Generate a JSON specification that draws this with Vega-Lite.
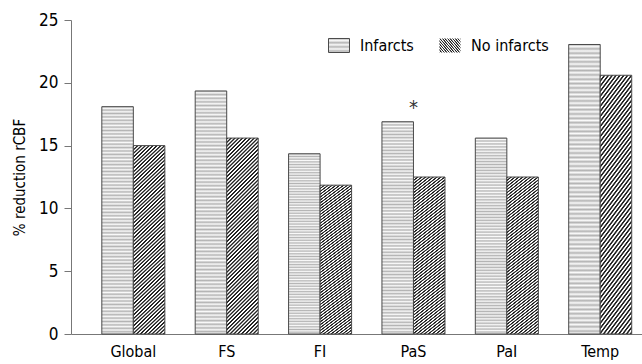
{
"$schema": "https://vega.github.io/schema/vega-lite/v6.json",
"width": 571,
"height": 314,
"autosize": {"type": "none"},
"padding": {"left": 71, "top": 20, "right": 0, "bottom": 30},
"config": {
  "font": "DejaVu Sans Condensed, sans-serif",
  "view": {"stroke": null},
  "axis": {"labelColor": "#000", "titleColor": "#000", "domainColor": "#777", "tickColor": "#777", "grid": false},
  "legend": {"orient": "none", "direction": "horizontal", "symbolType": "M-1,-0.667H1V0.667H-1Z", "symbolSize": 441, "symbolStrokeWidth": 1, "symbolStrokeColor": "#4a4a4a", "labelFontSize": 16, "labelColor": "#000", "labelOffset": 10, "padding": 0, "symbolOffset": 0}
},
"data": {"values": [
  {"category": "Global", "series": "Infarcts", "value": 18.1, "sig": ""},
  {"category": "Global", "series": "No infarcts", "value": 15.0, "sig": ""},
  {"category": "FS", "series": "Infarcts", "value": 19.35, "sig": ""},
  {"category": "FS", "series": "No infarcts", "value": 15.6, "sig": ""},
  {"category": "FI", "series": "Infarcts", "value": 14.35, "sig": ""},
  {"category": "FI", "series": "No infarcts", "value": 11.85, "sig": ""},
  {"category": "PaS", "series": "Infarcts", "value": 16.9, "sig": "*"},
  {"category": "PaS", "series": "No infarcts", "value": 12.5, "sig": ""},
  {"category": "PaI", "series": "Infarcts", "value": 15.6, "sig": ""},
  {"category": "PaI", "series": "No infarcts", "value": 12.5, "sig": ""},
  {"category": "Temp", "series": "Infarcts", "value": 23.05, "sig": ""},
  {"category": "Temp", "series": "No infarcts", "value": 20.6, "sig": ""}
]},
"encoding": {
  "x": {"field": "category", "type": "nominal", "sort": ["Global", "FS", "FI", "PaS", "PaI", "Temp"],
    "scale": {"paddingInner": 0.325, "paddingOuter": 0.22, "align": 0.75},
    "axis": {"title": null, "ticks": false, "labelAngle": 0, "labelFontSize": 16, "labelPadding": 9}},
  "y": {"field": "value", "type": "quantitative", "scale": {"domain": [0, 25], "nice": false},
    "axis": {"values": [0, 5, 10, 15, 20, 25], "title": "% reduction rCBF", "titleFontSize": 15, "titleFontWeight": "normal", "titlePadding": 11, "labelFontSize": 17, "tickSize": 7, "labelPadding": 6}}
},
"layer": [
  {
    "transform": [{"filter": "datum.series === 'Infarcts'"}],
    "mark": {"type": "bar", "strokeWidth": 1, "fill": {"gradient": "linear", "x1": 0, "y1": 0, "x2": 0, "y2": 1.5, "stops": [
{"offset":0,"color":"#b4b4b4"},{"offset":0.005,"color":"#fafafa"},{"offset":0.01,"color":"#b4b4b4"},{"offset":0.015,"color":"#fafafa"},{"offset":0.02,"color":"#b4b4b4"},{"offset":0.025,"color":"#fafafa"},{"offset":0.03,"color":"#b4b4b4"},{"offset":0.035,"color":"#fafafa"},{"offset":0.04,"color":"#b4b4b4"},{"offset":0.045,"color":"#fafafa"},
{"offset":0.05,"color":"#b4b4b4"},{"offset":0.055,"color":"#fafafa"},{"offset":0.06,"color":"#b4b4b4"},{"offset":0.065,"color":"#fafafa"},{"offset":0.07,"color":"#b4b4b4"},{"offset":0.075,"color":"#fafafa"},{"offset":0.08,"color":"#b4b4b4"},{"offset":0.085,"color":"#fafafa"},{"offset":0.09,"color":"#b4b4b4"},{"offset":0.095,"color":"#fafafa"},
{"offset":0.1,"color":"#b4b4b4"},{"offset":0.105,"color":"#fafafa"},{"offset":0.11,"color":"#b4b4b4"},{"offset":0.115,"color":"#fafafa"},{"offset":0.12,"color":"#b4b4b4"},{"offset":0.125,"color":"#fafafa"},{"offset":0.13,"color":"#b4b4b4"},{"offset":0.135,"color":"#fafafa"},{"offset":0.14,"color":"#b4b4b4"},{"offset":0.145,"color":"#fafafa"},
{"offset":0.15,"color":"#b4b4b4"},{"offset":0.155,"color":"#fafafa"},{"offset":0.16,"color":"#b4b4b4"},{"offset":0.165,"color":"#fafafa"},{"offset":0.17,"color":"#b4b4b4"},{"offset":0.175,"color":"#fafafa"},{"offset":0.18,"color":"#b4b4b4"},{"offset":0.185,"color":"#fafafa"},{"offset":0.19,"color":"#b4b4b4"},{"offset":0.195,"color":"#fafafa"},
{"offset":0.2,"color":"#b4b4b4"},{"offset":0.205,"color":"#fafafa"},{"offset":0.21,"color":"#b4b4b4"},{"offset":0.215,"color":"#fafafa"},{"offset":0.22,"color":"#b4b4b4"},{"offset":0.225,"color":"#fafafa"},{"offset":0.23,"color":"#b4b4b4"},{"offset":0.235,"color":"#fafafa"},{"offset":0.24,"color":"#b4b4b4"},{"offset":0.245,"color":"#fafafa"},
{"offset":0.25,"color":"#b4b4b4"},{"offset":0.255,"color":"#fafafa"},{"offset":0.26,"color":"#b4b4b4"},{"offset":0.265,"color":"#fafafa"},{"offset":0.27,"color":"#b4b4b4"},{"offset":0.275,"color":"#fafafa"},{"offset":0.28,"color":"#b4b4b4"},{"offset":0.285,"color":"#fafafa"},{"offset":0.29,"color":"#b4b4b4"},{"offset":0.295,"color":"#fafafa"},
{"offset":0.3,"color":"#b4b4b4"},{"offset":0.305,"color":"#fafafa"},{"offset":0.31,"color":"#b4b4b4"},{"offset":0.315,"color":"#fafafa"},{"offset":0.32,"color":"#b4b4b4"},{"offset":0.325,"color":"#fafafa"},{"offset":0.33,"color":"#b4b4b4"},{"offset":0.335,"color":"#fafafa"},{"offset":0.34,"color":"#b4b4b4"},{"offset":0.345,"color":"#fafafa"},
{"offset":0.35,"color":"#b4b4b4"},{"offset":0.355,"color":"#fafafa"},{"offset":0.36,"color":"#b4b4b4"},{"offset":0.365,"color":"#fafafa"},{"offset":0.37,"color":"#b4b4b4"},{"offset":0.375,"color":"#fafafa"},{"offset":0.38,"color":"#b4b4b4"},{"offset":0.385,"color":"#fafafa"},{"offset":0.39,"color":"#b4b4b4"},{"offset":0.395,"color":"#fafafa"},
{"offset":0.4,"color":"#b4b4b4"},{"offset":0.405,"color":"#fafafa"},{"offset":0.41,"color":"#b4b4b4"},{"offset":0.415,"color":"#fafafa"},{"offset":0.42,"color":"#b4b4b4"},{"offset":0.425,"color":"#fafafa"},{"offset":0.43,"color":"#b4b4b4"},{"offset":0.435,"color":"#fafafa"},{"offset":0.44,"color":"#b4b4b4"},{"offset":0.445,"color":"#fafafa"},
{"offset":0.45,"color":"#b4b4b4"},{"offset":0.455,"color":"#fafafa"},{"offset":0.46,"color":"#b4b4b4"},{"offset":0.465,"color":"#fafafa"},{"offset":0.47,"color":"#b4b4b4"},{"offset":0.475,"color":"#fafafa"},{"offset":0.48,"color":"#b4b4b4"},{"offset":0.485,"color":"#fafafa"},{"offset":0.49,"color":"#b4b4b4"},{"offset":0.495,"color":"#fafafa"},
{"offset":0.5,"color":"#b4b4b4"},{"offset":0.505,"color":"#fafafa"},{"offset":0.51,"color":"#b4b4b4"},{"offset":0.515,"color":"#fafafa"},{"offset":0.52,"color":"#b4b4b4"},{"offset":0.525,"color":"#fafafa"},{"offset":0.53,"color":"#b4b4b4"},{"offset":0.535,"color":"#fafafa"},{"offset":0.54,"color":"#b4b4b4"},{"offset":0.545,"color":"#fafafa"},
{"offset":0.55,"color":"#b4b4b4"},{"offset":0.555,"color":"#fafafa"},{"offset":0.56,"color":"#b4b4b4"},{"offset":0.565,"color":"#fafafa"},{"offset":0.57,"color":"#b4b4b4"},{"offset":0.575,"color":"#fafafa"},{"offset":0.58,"color":"#b4b4b4"},{"offset":0.585,"color":"#fafafa"},{"offset":0.59,"color":"#b4b4b4"},{"offset":0.595,"color":"#fafafa"},
{"offset":0.6,"color":"#b4b4b4"},{"offset":0.605,"color":"#fafafa"},{"offset":0.61,"color":"#b4b4b4"},{"offset":0.615,"color":"#fafafa"},{"offset":0.62,"color":"#b4b4b4"},{"offset":0.625,"color":"#fafafa"},{"offset":0.63,"color":"#b4b4b4"},{"offset":0.635,"color":"#fafafa"},{"offset":0.64,"color":"#b4b4b4"},{"offset":0.645,"color":"#fafafa"},
{"offset":0.65,"color":"#b4b4b4"},{"offset":0.655,"color":"#fafafa"},{"offset":0.66,"color":"#b4b4b4"},{"offset":0.665,"color":"#fafafa"},{"offset":0.67,"color":"#b4b4b4"}
    ]}},
    "encoding": {
      "xOffset": {"field": "series", "type": "nominal", "scale": {"domain": ["Infarcts", "No infarcts"], "paddingInner": 0, "paddingOuter": 0}},
      "stroke": {"field": "series", "type": "nominal", "scale": {"range": ["#4a4a4a"]},
        "legend": {"title": null, "legendX": 257, "legendY": 14.5,
          "encode": {"symbols": {
            "fill": {"value": {"gradient": "linear", "x1": 0, "y1": 0, "x2": 0, "y2": 2.14, "stops": [
{"offset":0,"color":"#b4b4b4"},{"offset":0.05,"color":"#fafafa"},{"offset":0.1,"color":"#b4b4b4"},{"offset":0.15,"color":"#fafafa"},{"offset":0.2,"color":"#b4b4b4"},{"offset":0.25,"color":"#fafafa"},{"offset":0.3,"color":"#b4b4b4"},{"offset":0.35,"color":"#fafafa"},{"offset":0.4,"color":"#b4b4b4"},{"offset":0.45,"color":"#fafafa"},{"offset":0.5,"color":"#b4b4b4"}
            ]}},
            "fillOpacity": {"value": 1},
            "strokeWidth": {"value": 1}
          }}
        }
      }
    }
  },
  {
    "transform": [{"filter": "datum.series === 'No infarcts'"}],
    "mark": {"type": "bar", "strokeWidth": 1, "stroke": "#4a4a4a", "fill": {"gradient": "linear", "x1": 0, "y1": 0, "x2": 0.3042, "y2": 1.901, "stops": [
{"offset":0,"color":"#222"},{"offset":0.003,"color":"#222"},{"offset":0.005,"color":"#fff"},{"offset":0.008,"color":"#fff"},
{"offset":0.01,"color":"#222"},{"offset":0.013,"color":"#222"},{"offset":0.015,"color":"#fff"},{"offset":0.018,"color":"#fff"},
{"offset":0.02,"color":"#222"},{"offset":0.023,"color":"#222"},{"offset":0.025,"color":"#fff"},{"offset":0.028,"color":"#fff"},
{"offset":0.03,"color":"#222"},{"offset":0.033,"color":"#222"},{"offset":0.035,"color":"#fff"},{"offset":0.038,"color":"#fff"},
{"offset":0.04,"color":"#222"},{"offset":0.043,"color":"#222"},{"offset":0.045,"color":"#fff"},{"offset":0.048,"color":"#fff"},
{"offset":0.05,"color":"#222"},{"offset":0.053,"color":"#222"},{"offset":0.055,"color":"#fff"},{"offset":0.058,"color":"#fff"},
{"offset":0.06,"color":"#222"},{"offset":0.063,"color":"#222"},{"offset":0.065,"color":"#fff"},{"offset":0.068,"color":"#fff"},
{"offset":0.07,"color":"#222"},{"offset":0.073,"color":"#222"},{"offset":0.075,"color":"#fff"},{"offset":0.078,"color":"#fff"},
{"offset":0.08,"color":"#222"},{"offset":0.083,"color":"#222"},{"offset":0.085,"color":"#fff"},{"offset":0.088,"color":"#fff"},
{"offset":0.09,"color":"#222"},{"offset":0.093,"color":"#222"},{"offset":0.095,"color":"#fff"},{"offset":0.098,"color":"#fff"},
{"offset":0.1,"color":"#222"},{"offset":0.103,"color":"#222"},{"offset":0.105,"color":"#fff"},{"offset":0.108,"color":"#fff"},
{"offset":0.11,"color":"#222"},{"offset":0.113,"color":"#222"},{"offset":0.115,"color":"#fff"},{"offset":0.118,"color":"#fff"},
{"offset":0.12,"color":"#222"},{"offset":0.123,"color":"#222"},{"offset":0.125,"color":"#fff"},{"offset":0.128,"color":"#fff"},
{"offset":0.13,"color":"#222"},{"offset":0.133,"color":"#222"},{"offset":0.135,"color":"#fff"},{"offset":0.138,"color":"#fff"},
{"offset":0.14,"color":"#222"},{"offset":0.143,"color":"#222"},{"offset":0.145,"color":"#fff"},{"offset":0.148,"color":"#fff"},
{"offset":0.15,"color":"#222"},{"offset":0.153,"color":"#222"},{"offset":0.155,"color":"#fff"},{"offset":0.158,"color":"#fff"},
{"offset":0.16,"color":"#222"},{"offset":0.163,"color":"#222"},{"offset":0.165,"color":"#fff"},{"offset":0.168,"color":"#fff"},
{"offset":0.17,"color":"#222"},{"offset":0.173,"color":"#222"},{"offset":0.175,"color":"#fff"},{"offset":0.178,"color":"#fff"},
{"offset":0.18,"color":"#222"},{"offset":0.183,"color":"#222"},{"offset":0.185,"color":"#fff"},{"offset":0.188,"color":"#fff"},
{"offset":0.19,"color":"#222"},{"offset":0.193,"color":"#222"},{"offset":0.195,"color":"#fff"},{"offset":0.198,"color":"#fff"},
{"offset":0.2,"color":"#222"},{"offset":0.203,"color":"#222"},{"offset":0.205,"color":"#fff"},{"offset":0.208,"color":"#fff"},
{"offset":0.21,"color":"#222"},{"offset":0.213,"color":"#222"},{"offset":0.215,"color":"#fff"},{"offset":0.218,"color":"#fff"},
{"offset":0.22,"color":"#222"},{"offset":0.223,"color":"#222"},{"offset":0.225,"color":"#fff"},{"offset":0.228,"color":"#fff"},
{"offset":0.23,"color":"#222"},{"offset":0.233,"color":"#222"},{"offset":0.235,"color":"#fff"},{"offset":0.238,"color":"#fff"},
{"offset":0.24,"color":"#222"},{"offset":0.243,"color":"#222"},{"offset":0.245,"color":"#fff"},{"offset":0.248,"color":"#fff"},
{"offset":0.25,"color":"#222"},{"offset":0.253,"color":"#222"},{"offset":0.255,"color":"#fff"},{"offset":0.258,"color":"#fff"},
{"offset":0.26,"color":"#222"},{"offset":0.263,"color":"#222"},{"offset":0.265,"color":"#fff"},{"offset":0.268,"color":"#fff"},
{"offset":0.27,"color":"#222"},{"offset":0.273,"color":"#222"},{"offset":0.275,"color":"#fff"},{"offset":0.278,"color":"#fff"},
{"offset":0.28,"color":"#222"},{"offset":0.283,"color":"#222"},{"offset":0.285,"color":"#fff"},{"offset":0.288,"color":"#fff"},
{"offset":0.29,"color":"#222"},{"offset":0.293,"color":"#222"},{"offset":0.295,"color":"#fff"},{"offset":0.298,"color":"#fff"},
{"offset":0.3,"color":"#222"},{"offset":0.303,"color":"#222"},{"offset":0.305,"color":"#fff"},{"offset":0.308,"color":"#fff"},
{"offset":0.31,"color":"#222"},{"offset":0.313,"color":"#222"},{"offset":0.315,"color":"#fff"},{"offset":0.318,"color":"#fff"},
{"offset":0.32,"color":"#222"},{"offset":0.323,"color":"#222"},{"offset":0.325,"color":"#fff"},{"offset":0.328,"color":"#fff"},
{"offset":0.33,"color":"#222"},{"offset":0.333,"color":"#222"},{"offset":0.335,"color":"#fff"},{"offset":0.338,"color":"#fff"},
{"offset":0.34,"color":"#222"},{"offset":0.343,"color":"#222"},{"offset":0.345,"color":"#fff"},{"offset":0.348,"color":"#fff"},
{"offset":0.35,"color":"#222"},{"offset":0.353,"color":"#222"},{"offset":0.355,"color":"#fff"},{"offset":0.358,"color":"#fff"},
{"offset":0.36,"color":"#222"},{"offset":0.363,"color":"#222"},{"offset":0.365,"color":"#fff"},{"offset":0.368,"color":"#fff"},
{"offset":0.37,"color":"#222"},{"offset":0.373,"color":"#222"},{"offset":0.375,"color":"#fff"},{"offset":0.378,"color":"#fff"},
{"offset":0.38,"color":"#222"},{"offset":0.383,"color":"#222"},{"offset":0.385,"color":"#fff"},{"offset":0.388,"color":"#fff"},
{"offset":0.39,"color":"#222"},{"offset":0.393,"color":"#222"},{"offset":0.395,"color":"#fff"},{"offset":0.398,"color":"#fff"},
{"offset":0.4,"color":"#222"},{"offset":0.403,"color":"#222"},{"offset":0.405,"color":"#fff"},{"offset":0.408,"color":"#fff"},
{"offset":0.41,"color":"#222"},{"offset":0.413,"color":"#222"},{"offset":0.415,"color":"#fff"},{"offset":0.418,"color":"#fff"},
{"offset":0.42,"color":"#222"},{"offset":0.423,"color":"#222"},{"offset":0.425,"color":"#fff"},{"offset":0.428,"color":"#fff"},
{"offset":0.43,"color":"#222"},{"offset":0.433,"color":"#222"},{"offset":0.435,"color":"#fff"},{"offset":0.438,"color":"#fff"},
{"offset":0.44,"color":"#222"},{"offset":0.443,"color":"#222"},{"offset":0.445,"color":"#fff"},{"offset":0.448,"color":"#fff"},
{"offset":0.45,"color":"#222"},{"offset":0.453,"color":"#222"},{"offset":0.455,"color":"#fff"},{"offset":0.458,"color":"#fff"},
{"offset":0.46,"color":"#222"},{"offset":0.463,"color":"#222"},{"offset":0.465,"color":"#fff"},{"offset":0.468,"color":"#fff"},
{"offset":0.47,"color":"#222"},{"offset":0.473,"color":"#222"},{"offset":0.475,"color":"#fff"},{"offset":0.478,"color":"#fff"},
{"offset":0.48,"color":"#222"},{"offset":0.483,"color":"#222"},{"offset":0.485,"color":"#fff"},{"offset":0.488,"color":"#fff"},
{"offset":0.49,"color":"#222"},{"offset":0.493,"color":"#222"},{"offset":0.495,"color":"#fff"},{"offset":0.498,"color":"#fff"},
{"offset":0.5,"color":"#222"},{"offset":0.503,"color":"#222"},{"offset":0.505,"color":"#fff"},{"offset":0.508,"color":"#fff"},
{"offset":0.51,"color":"#222"},{"offset":0.513,"color":"#222"},{"offset":0.515,"color":"#fff"},{"offset":0.518,"color":"#fff"},
{"offset":0.52,"color":"#222"},{"offset":0.523,"color":"#222"},{"offset":0.525,"color":"#fff"},{"offset":0.528,"color":"#fff"},
{"offset":0.53,"color":"#222"},{"offset":0.533,"color":"#222"},{"offset":0.535,"color":"#fff"},{"offset":0.538,"color":"#fff"},
{"offset":0.54,"color":"#222"},{"offset":0.543,"color":"#222"},{"offset":0.545,"color":"#fff"},{"offset":0.548,"color":"#fff"},
{"offset":0.55,"color":"#222"},{"offset":0.553,"color":"#222"},{"offset":0.555,"color":"#fff"},{"offset":0.558,"color":"#fff"},
{"offset":0.56,"color":"#222"},{"offset":0.563,"color":"#222"},{"offset":0.565,"color":"#fff"},{"offset":0.568,"color":"#fff"},
{"offset":0.57,"color":"#222"},{"offset":0.573,"color":"#222"},{"offset":0.575,"color":"#fff"},{"offset":0.578,"color":"#fff"},
{"offset":0.58,"color":"#222"},{"offset":0.583,"color":"#222"},{"offset":0.585,"color":"#fff"},{"offset":0.588,"color":"#fff"},
{"offset":0.59,"color":"#222"},{"offset":0.593,"color":"#222"},{"offset":0.595,"color":"#fff"},{"offset":0.598,"color":"#fff"},
{"offset":0.6,"color":"#222"}
    ]}},
    "encoding": {
      "xOffset": {"field": "series", "type": "nominal", "scale": {"domain": ["Infarcts", "No infarcts"], "paddingInner": 0, "paddingOuter": 0}},
      "opacity": {"field": "series", "type": "ordinal", "scale": {"range": [1]},
        "legend": {"title": null, "legendX": 368, "legendY": 14.5,
          "encode": {"symbols": {
            "fill": {"value": {"gradient": "linear", "x1": 0, "y1": 0, "x2": 1.527, "y2": 0.972, "stops": [
{"offset":0,"color":"#222"},{"offset":0.03,"color":"#222"},{"offset":0.05,"color":"#fff"},{"offset":0.08,"color":"#fff"},
{"offset":0.1,"color":"#222"},{"offset":0.13,"color":"#222"},{"offset":0.15,"color":"#fff"},{"offset":0.18,"color":"#fff"},
{"offset":0.2,"color":"#222"},{"offset":0.23,"color":"#222"},{"offset":0.25,"color":"#fff"},{"offset":0.28,"color":"#fff"},
{"offset":0.3,"color":"#222"},{"offset":0.33,"color":"#222"},{"offset":0.35,"color":"#fff"},{"offset":0.38,"color":"#fff"},
{"offset":0.4,"color":"#222"},{"offset":0.43,"color":"#222"},{"offset":0.45,"color":"#fff"},{"offset":0.48,"color":"#fff"},
{"offset":0.5,"color":"#222"},{"offset":0.53,"color":"#222"},{"offset":0.55,"color":"#fff"},{"offset":0.58,"color":"#fff"},
{"offset":0.6,"color":"#222"},{"offset":0.63,"color":"#222"},{"offset":0.65,"color":"#fff"},{"offset":0.68,"color":"#fff"},
{"offset":0.7,"color":"#222"},{"offset":0.73,"color":"#222"},{"offset":0.75,"color":"#fff"},{"offset":0.78,"color":"#fff"},
{"offset":0.8,"color":"#222"},{"offset":0.83,"color":"#222"},{"offset":0.85,"color":"#fff"},{"offset":0.88,"color":"#fff"},
{"offset":0.9,"color":"#222"},{"offset":0.93,"color":"#222"},{"offset":0.95,"color":"#fff"},{"offset":0.98,"color":"#fff"},
{"offset":1,"color":"#222"}
            ]}},
            "fillOpacity": {"value": 1},
            "stroke": {"value": "#4a4a4a"},
            "strokeWidth": {"value": 1}
          }}
        }
      }
    }
  },
  {
    "transform": [{"filter": "datum.sig !== ''"}],
    "mark": {"type": "text", "fontSize": 20, "dy": -14, "baseline": "middle", "fill": "#333"},
    "encoding": {
      "text": {"field": "sig"}
    }
  }
]
}
